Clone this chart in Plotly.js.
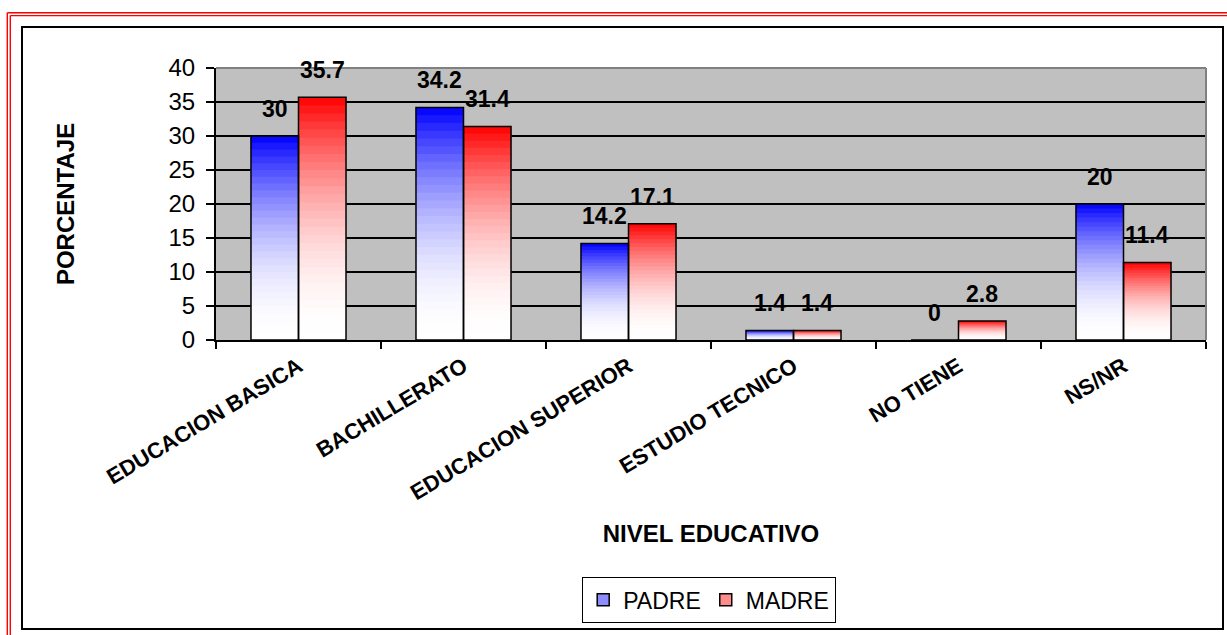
<!DOCTYPE html>
<html>
<head>
<meta charset="utf-8">
<script src="https://cdn.plot.ly/plotly-3.0.1.min.js"></script>
<style>
  html, body { margin: 0; padding: 0; background: #ffffff; }
  #chart { width: 1227px; height: 635px; }
</style>
</head>
<body>
<div id="chart"></div>
<script>
// ---- data ----
const categories = ['EDUCACION BASICA', 'BACHILLERATO', 'EDUCACION SUPERIOR', 'ESTUDIO TECNICO', 'NO TIENE', 'NS/NR'];
const padre = [30, 34.2, 14.2, 1.4, 0, 20];
const madre = [35.7, 31.4, 17.1, 1.4, 2.8, 11.4];
const seriesNames = ['PADRE', 'MADRE'];
const yTickVals = [0, 5, 10, 15, 20, 25, 30, 35, 40];

// ---- styling ----
const FONT = 'Liberation Sans, Arial, Helvetica, sans-serif';
const STEPS = 30;           // vertical gradient steps
const seriesSpec = [
  { name: seriesNames[0], values: padre, group: 'p', top: [0, 0, 255], legendColor: 'rgb(140,140,255)' },
  { name: seriesNames[1], values: madre, group: 'm', top: [255, 0, 0], legendColor: 'rgb(255,140,140)' }
];

function mix(top, f) {
  const c = top.map(v => Math.round(255 * (1 - f) + v * f));
  return 'rgb(' + c.join(',') + ')';
}

const traces = [];
// legend entries (no bars drawn)
seriesSpec.forEach(s => {
  traces.push({
    type: 'bar', name: s.name, x: categories, y: categories.map(() => null),
    offsetgroup: s.group, showlegend: true, hoverinfo: 'skip',
    marker: { color: s.legendColor, line: { color: '#000000', width: 1.5 } }
  });
});
// gradient fill: stacked overlays, each covering from a fraction of the value up to the top
seriesSpec.forEach(s => {
  for (let k = 0; k < STEPS; k++) {
    const t = (k + 0.5) / STEPS;
    const f = Math.pow(t, 2);
    traces.push({
      type: 'bar', x: categories,
      base: s.values.map(v => v * k / STEPS),
      y: s.values.map(v => v * (1 - k / STEPS)),
      offsetgroup: s.group, showlegend: false, hoverinfo: 'skip',
      marker: { color: mix(s.top, f), line: { width: 0 } }
    });
  }
});
// outlines
seriesSpec.forEach(s => {
  traces.push({
    type: 'bar', x: categories, y: s.values, name: s.name,
    offsetgroup: s.group, showlegend: false,
    marker: { color: 'rgba(0,0,0,0)', line: { color: '#000000', width: 1.5 } }
  });
});

// data labels
const BARW = 0.576 * 165 / 2; // width of one bar in px
const annotations = [];
seriesSpec.forEach((s, si) => {
  s.values.forEach((v, i) => {
    annotations.push({
      x: categories[i], y: v, xref: 'x', yref: 'y',
      text: String(v), showarrow: false,
      xshift: (si === 0 ? -1 : 1) * BARW / 2, yshift: 12,
      yanchor: 'bottom', xanchor: 'center',
      font: { family: FONT, size: 23, color: '#000000', weight: 'bold' }
    });
  });
});

// frame helpers: convert pixel to paper coords
const L = 216, R = 21, T = 68, B = 295, W = 1227, H = 635;
const pw = W - L - R, ph = H - T - B;
const px = x => (x - L) / pw;
const py = y => (H - B - y) / ph;

const shapes = [
  // red double frame (top + left)
  { type: 'line', xref: 'paper', yref: 'paper', x0: px(7.3), x1: px(1260), y0: py(12.7), y1: py(12.7), line: { color: '#ff0000', width: 1.4 } },
  { type: 'line', xref: 'paper', yref: 'paper', x0: px(10.3), x1: px(1260), y0: py(15.6), y1: py(15.6), line: { color: '#ff0000', width: 1.4 } },
  { type: 'line', xref: 'paper', yref: 'paper', x0: px(7.3), x1: px(7.3), y0: py(12.7), y1: py(660), line: { color: '#ff0000', width: 1.4 } },
  { type: 'line', xref: 'paper', yref: 'paper', x0: px(10.3), x1: px(10.3), y0: py(15.6), y1: py(660), line: { color: '#ff0000', width: 1.4 } },
  // black chart-area border
  { type: 'rect', xref: 'paper', yref: 'paper', x0: px(22), x1: px(1223), y0: py(629), y1: py(27), line: { color: '#000000', width: 2 }, fillcolor: 'rgba(0,0,0,0)' },
  // grey plot-area border top & right
  { type: 'line', xref: 'paper', yref: 'paper', x0: 0, x1: 1, y0: 1, y1: 1, line: { color: '#808080', width: 2 } },
  { type: 'line', xref: 'paper', yref: 'paper', x0: 1, x1: 1, y0: 0, y1: 1, line: { color: '#808080', width: 2 } }
];

const layout = {
  width: W, height: H,
  margin: { l: L, r: R, t: T, b: B, pad: 0 },
  paper_bgcolor: '#ffffff',
  plot_bgcolor: '#c0c0c0',
  font: { family: FONT, color: '#000000' },
  barmode: 'group',
  bargap: 0.424,
  bargroupgap: 0,
  showlegend: true,
  legend: {
    orientation: 'h', x: px(709), xanchor: 'center', xref: 'paper',
    y: py(577), yanchor: 'top', yref: 'paper',
    bgcolor: '#ffffff', bordercolor: '#000000', borderwidth: 1.2,
    font: { family: FONT, size: 23, color: '#000000' },
    itemclick: false, itemdoubleclick: false
  },
  xaxis: {
    type: 'category',
    tickangle: -31,
    tickson: 'boundaries',
    ticks: 'outside', ticklen: 7, tickwidth: 1.5, tickcolor: '#000000',
    ticklabelstandoff: 3,
    showline: true, linecolor: '#000000', linewidth: 2,
    showgrid: false, zeroline: false,
    tickfont: { family: FONT, size: 22, color: '#000000', weight: 'bold' },
    title: { text: 'NIVEL EDUCATIVO', font: { family: FONT, size: 24, color: '#000000', weight: 'bold' }, standoff: 21 },
    automargin: false, fixedrange: true
  },
  yaxis: {
    range: [0, 40],
    tickvals: yTickVals,
    ticks: 'outside', ticklen: 8, tickwidth: 1.5, tickcolor: '#000000',
    ticklabelstandoff: 6,
    showline: true, linecolor: '#000000', linewidth: 2,
    showgrid: true, gridcolor: '#000000', gridwidth: 2,
    zeroline: false,
    tickfont: { family: FONT, size: 24, color: '#000000' },
    title: { text: 'PORCENTAJE', font: { family: FONT, size: 24, color: '#000000', weight: 'bold' }, standoff: 87 },
    automargin: false, fixedrange: true
  },
  shapes: shapes,
  annotations: annotations
};

Plotly.newPlot('chart', traces, layout, { displayModeBar: false, staticPlot: true });
</script>
</body>
</html>
